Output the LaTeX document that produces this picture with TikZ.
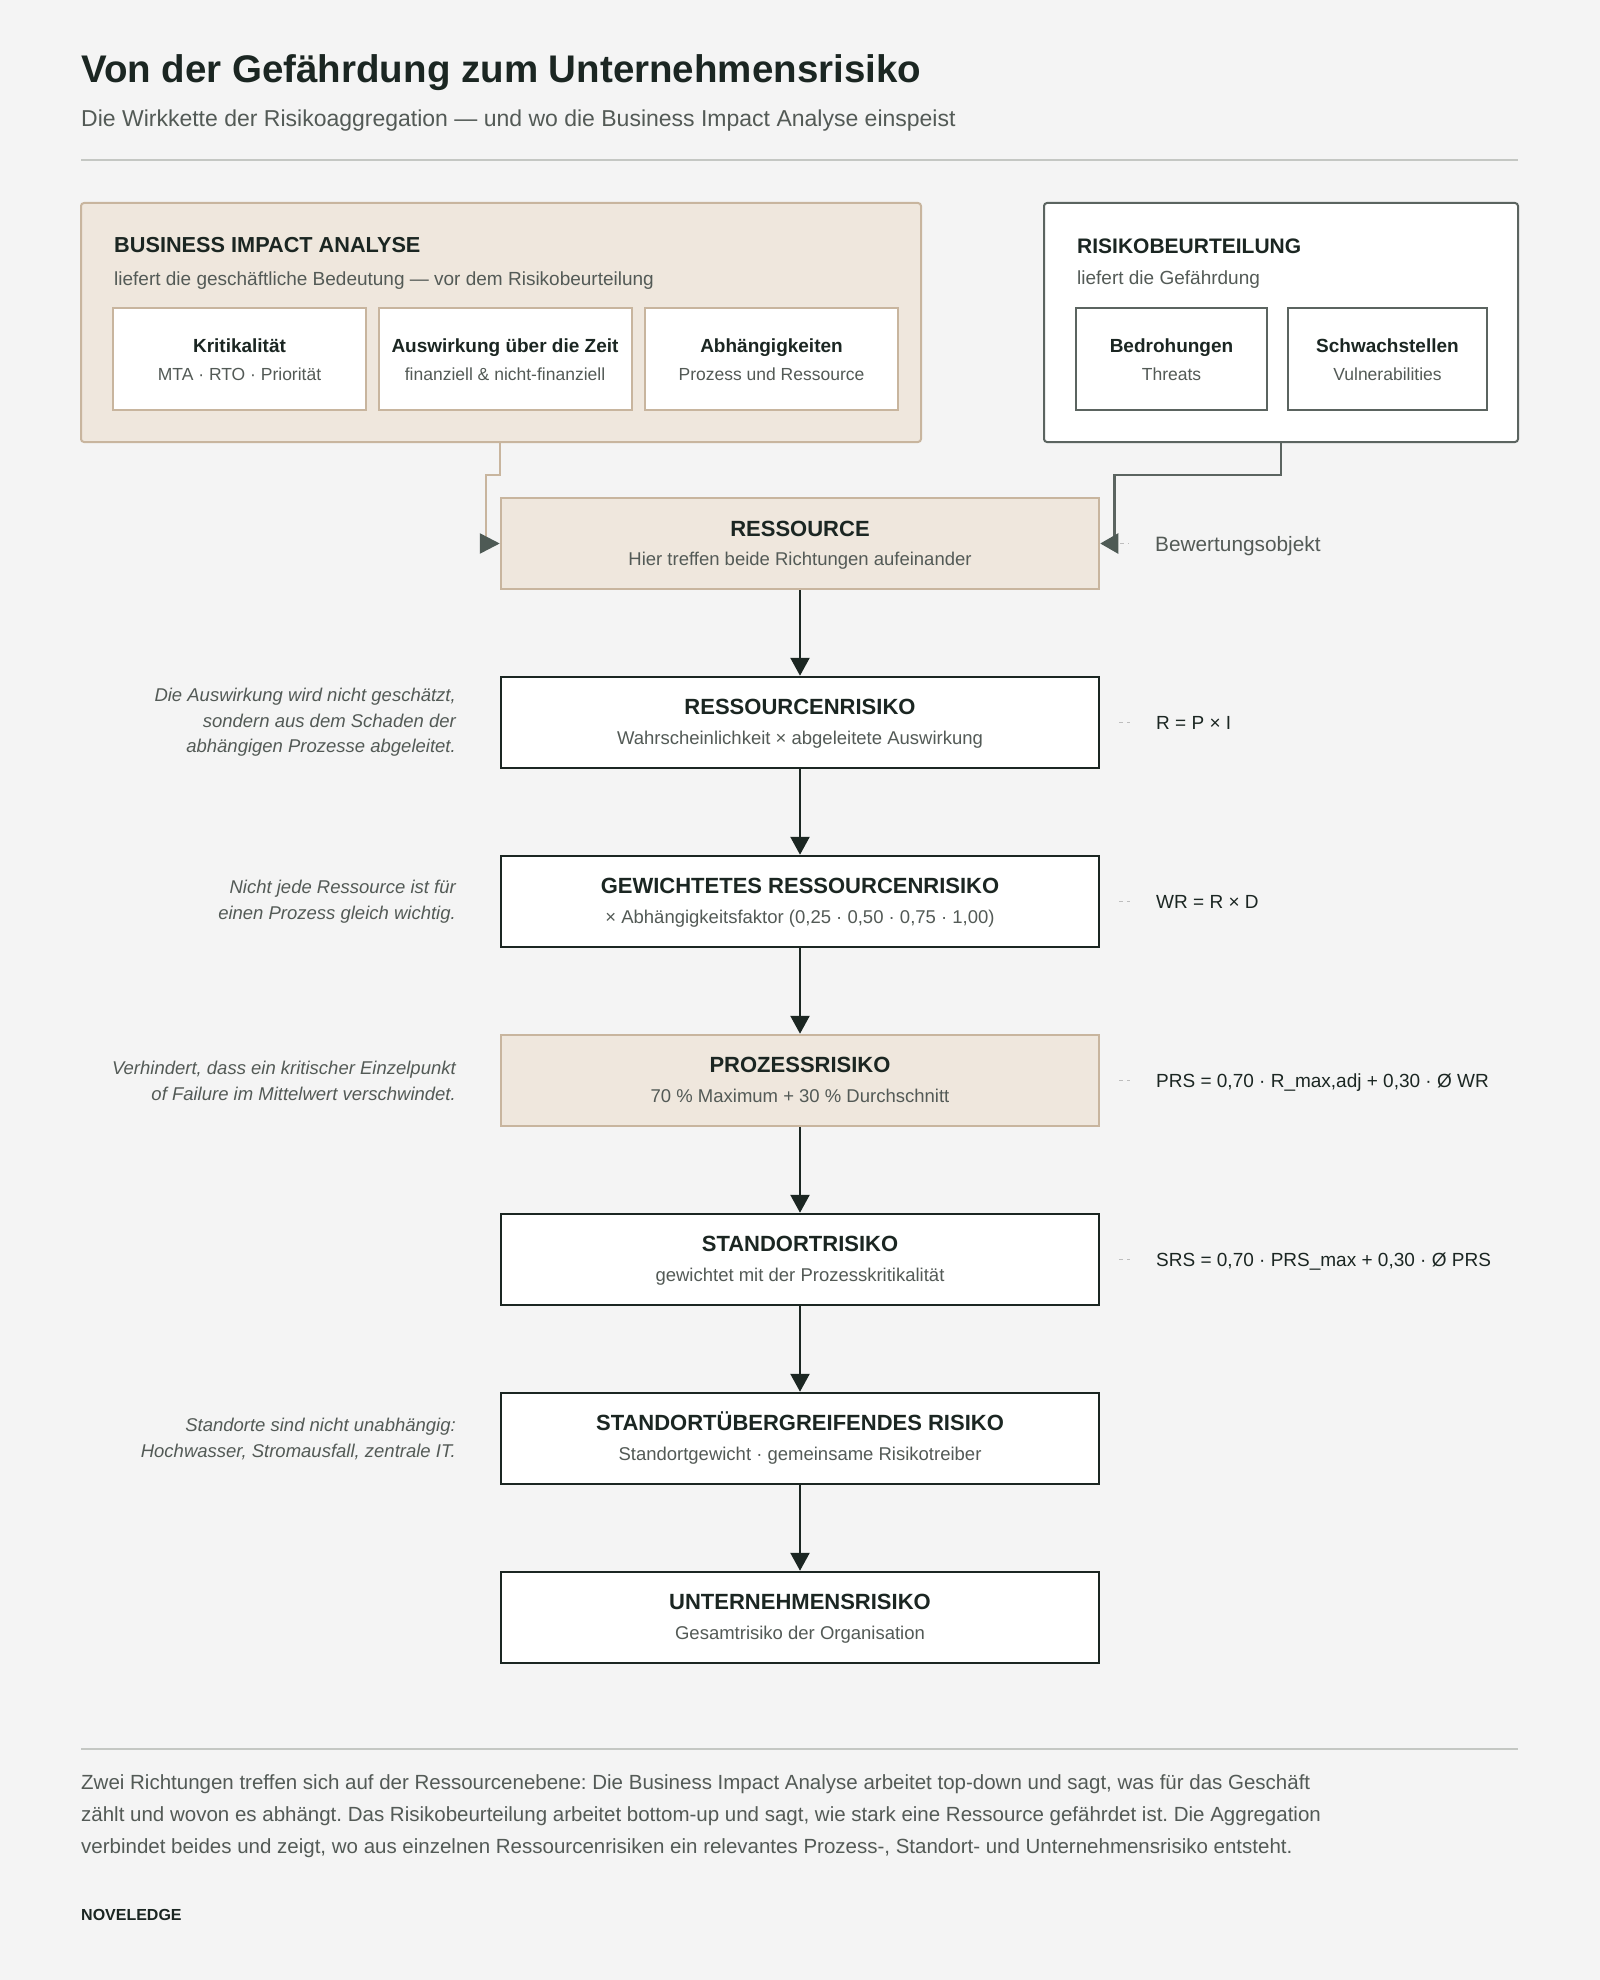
\documentclass[tikz,border=0pt]{standalone}
\usepackage{fontspec}
\setmainfont{Liberation Sans}
\usetikzlibrary{arrows.meta}
\frenchspacing
\definecolor{bgc}{HTML}{F4F4F4}
\definecolor{ink}{HTML}{1B2622}
\definecolor{muted}{HTML}{535A56}
\definecolor{beige}{HTML}{EFE7DD}
\definecolor{tan}{HTML}{C8B59E}
\definecolor{slate}{HTML}{5B6460}
\definecolor{tipgray}{HTML}{4E5A55}
\definecolor{rulec}{HTML}{C4C7C3}
\definecolor{leadc}{HTML}{BDBDBD}
\begin{document}
\frenchspacing
\begin{tikzpicture}[x=1pt,y=-1pt,
  chainbox/.style={draw=ink, line width=2.5pt, fill=white, minimum width=598pt, minimum height=91pt, inner sep=0pt},
  accentbox/.style={chainbox, draw=tan, fill=beige},
  boxtitle/.style={anchor=base, text=ink, font={\fontsize{22}{22}\selectfont\bfseries}},
  boxsub/.style={anchor=base, text=muted, font={\fontsize{18.5}{18.5}\selectfont}},
  note/.style={anchor=east, align=right, text=muted, inner sep=0pt, font={\fontsize{18.5}{25.5}\selectfont\itshape}},
  formula/.style={anchor=base west, text=ink, inner sep=0pt, font={\fontsize{19}{19}\selectfont}},
  leader/.style={draw=leadc, line width=1.5pt, dash pattern=on 4pt off 4pt},
  chainarrow/.style={draw=ink, line width=2.5pt, -{Triangle[length=18pt,width=19pt]}},
  biasub/.style={draw=tan, line width=2pt, fill=white, minimum width=253pt, minimum height=102pt, inner sep=0pt},
  rbsub/.style={draw=slate, line width=2pt, fill=white, minimum height=102pt, inner sep=0pt},
  subtitle/.style={anchor=base, text=ink, font={\fontsize{19}{19}\selectfont\bfseries}},
  subsub/.style={anchor=base, text=muted, font={\fontsize{17.5}{17.5}\selectfont}},
]
% background
\fill[bgc] (0,0) rectangle (1600,1980);
\useasboundingbox (0,0) rectangle (1600,1980);

% header
\node[anchor=base west, inner sep=0pt, text=ink, font={\fontsize{38.5}{38.5}\selectfont\bfseries}] (title) at (81,83) {Von der Gefährdung zum Unternehmensrisiko};
\node[anchor=base west, inner sep=0pt, text=muted, font={\fontsize{23}{23}\selectfont}] (subtitle) at (81,127) {Die Wirkkette der Risikoaggregation — und wo die Business Impact Analyse einspeist};
\draw[rulec, line width=2pt] (81,160) -- (1518,160);

% BIA panel
\node[draw=tan, line width=2pt, fill=beige, rounded corners=3pt, minimum width=840pt, minimum height=239pt, inner sep=0pt] (bia) at (501,322.5) {};
\node[anchor=base west, inner sep=0pt, text=ink, font={\fontsize{21.7}{21.7}\selectfont\bfseries}] (biatitle) at (114,252) {BUSINESS IMPACT ANALYSE};
\node[anchor=base west, inner sep=0pt, text=muted, font={\fontsize{19}{19}\selectfont}] (biasubt) at (114,285) {liefert die geschäftliche Bedeutung — vor dem Risikobeurteilung};
\node[biasub] (krit) at (239.5,359) {};
\node[subtitle] (kritt) at (239.5,352) {Kritikalität};
\node[subsub] (krits) at (239.5,380) {MTA · RTO · Priorität};
\node[biasub] (ausw) at (505,359) {};
\node[subtitle] (auswt) at (505,352) {Auswirkung über die Zeit};
\node[subsub] (ausws) at (505,380) {finanziell \& nicht-finanziell};
\node[biasub] (abh) at (771.5,359) {};
\node[subtitle] (abht) at (771.5,352) {Abhängigkeiten};
\node[subsub] (abhs) at (771.5,380) {Prozess und Ressource};

% RB panel
\node[draw=slate, line width=2pt, fill=white, rounded corners=3pt, minimum width=474pt, minimum height=239pt, inner sep=0pt] (rb) at (1281,322.5) {};
\node[anchor=base west, inner sep=0pt, text=ink, font={\fontsize{21}{21}\selectfont\bfseries}] (rbtitle) at (1077,253) {RISIKOBEURTEILUNG};
\node[anchor=base west, inner sep=0pt, text=muted, font={\fontsize{19}{19}\selectfont}] (rbsubt) at (1077,284) {liefert die Gefährdung};
\node[rbsub, minimum width=191pt] (bed) at (1171.5,359) {};
\node[subtitle] (bedt) at (1171.5,352) {Bedrohungen};
\node[subsub] (beds) at (1171.5,380) {Threats};
\node[rbsub, minimum width=199pt] (schw) at (1387.5,359) {};
\node[subtitle] (schwt) at (1387.5,352) {Schwachstellen};
\node[subsub] (schws) at (1387.5,380) {Vulnerabilities};

% chain
\node[accentbox] (r0) at (800,543.5) {};
\node[boxtitle] (r0t) at (800,536) {RESSOURCE};
\node[boxsub] (r0s) at (800,565) {Hier treffen beide Richtungen aufeinander};

\node[chainbox] (r1) at (800,722.5) {};
\node[boxtitle] (r1t) at (800,714.5) {RESSOURCENRISIKO};
\node[boxsub] (r1s) at (800,744) {Wahrscheinlichkeit × abgeleitete Auswirkung};

\node[chainbox] (r2) at (800,901.5) {};
\node[boxtitle] (r2t) at (800,893.5) {GEWICHTETES RESSOURCENRISIKO};
\node[boxsub] (r2s) at (800,923) {× Abhängigkeitsfaktor (0,25 · 0,50 · 0,75 · 1,00)};

\node[accentbox] (r3) at (800,1080.5) {};
\node[boxtitle] (r3t) at (800,1072.5) {PROZESSRISIKO};
\node[boxsub] (r3s) at (800,1102) {70 \% Maximum + 30 \% Durchschnitt};

\node[chainbox] (r4) at (800,1259.5) {};
\node[boxtitle] (r4t) at (800,1251.5) {STANDORTRISIKO};
\node[boxsub] (r4s) at (800,1281) {gewichtet mit der Prozesskritikalität};

\node[chainbox] (r5) at (800,1438.5) {};
\node[boxtitle] (r5t) at (800,1430.5) {STANDORTÜBERGREIFENDES RISIKO};
\node[boxsub] (r5s) at (800,1460) {Standortgewicht · gemeinsame Risikotreiber};

\node[chainbox] (r6) at (800,1617.5) {};
\node[boxtitle] (r6t) at (800,1609.5) {UNTERNEHMENSRISIKO};
\node[boxsub] (r6s) at (800,1639) {Gesamtrisiko der Organisation};

\foreach \a/\b in {r0/r1,r1/r2,r2/r3,r3/r4,r4/r5,r5/r6}
  \draw[chainarrow] (\a.south) -- (\b.north);

% feeding connectors
\draw[tan, line width=2.5pt, -{Triangle[length=20pt,width=20pt,color=tipgray]}]
  (bia.south -| r0.west) -- ++(0,32) -- ++(-14,0) |- (r0.west);
\draw[slate, line width=2.5pt, -{Triangle[length=18pt,width=20pt,color=tipgray]}]
  (rb.south) -- ++(0,32) -| ([xshift=14pt]r0.east) -- (r0.east);

% right side labels
\node[anchor=base west, inner sep=0pt, text=muted, font={\fontsize{20.8}{20.8}\selectfont}] (bew) at (1155,551) {Bewertungsobjekt};
\node[formula] (f1) at (1156,729) {R = P × I};
\node[formula] (f2) at (1156,908) {WR = R × D};
\node[formula] (f3) at (1156,1087) {PRS = 0,70 · R\_max,adj + 0,30 · Ø WR};
\node[formula] (f4) at (1156,1266) {SRS = 0,70 · PRS\_max + 0,30 · Ø PRS};
\draw[leader] ([xshift=20pt]r0.east) -- ([xshift=-26pt]bew.west |- r0.east);
\foreach \b/\f in {r1/f1,r2/f2,r3/f3,r4/f4}
  \draw[leader] ([xshift=19pt]\b.east) -- ([xshift=-26pt]\f.west |- \b.east);

% left notes
\node[note] (n1) at (456,722.5) {Die Auswirkung wird nicht geschätzt,\\sondern aus dem Schaden der\\abhängigen Prozesse abgeleitet.};
\node[note] (n2) at (456,901.5) {Nicht jede Ressource ist für\\einen Prozess gleich wichtig.};
\node[note] (n3) at (456,1081) {Verhindert, dass ein kritischer Einzelpunkt\\of Failure im Mittelwert verschwindet.};
\node[note] (n5) at (456,1439) {Standorte sind nicht unabhängig:\\Hochwasser, Stromausfall, zentrale IT.};

% footer
\draw[rulec, line width=2pt] (81,1749) -- (1518,1749);
\node[anchor=north west, align=left, inner sep=0pt, text=muted, font={\fontsize{20.5}{32}\selectfont}] (para) at (81,1774) {Zwei Richtungen treffen sich auf der Ressourcenebene: Die Business Impact Analyse arbeitet top-down und sagt, was für das Geschäft\\zählt und wovon es abhängt. Das Risikobeurteilung arbeitet bottom-up und sagt, wie stark eine Ressource gefährdet ist. Die Aggregation\\verbindet beides und zeigt, wo aus einzelnen Ressourcenrisiken ein relevantes Prozess-, Standort- und Unternehmensrisiko entsteht.};
\node[anchor=base west, inner sep=0pt, text=ink, font={\fontsize{16}{16}\selectfont\bfseries}] (brand) at (81,1920) {NOVELEDGE};
\end{tikzpicture}
\end{document}
